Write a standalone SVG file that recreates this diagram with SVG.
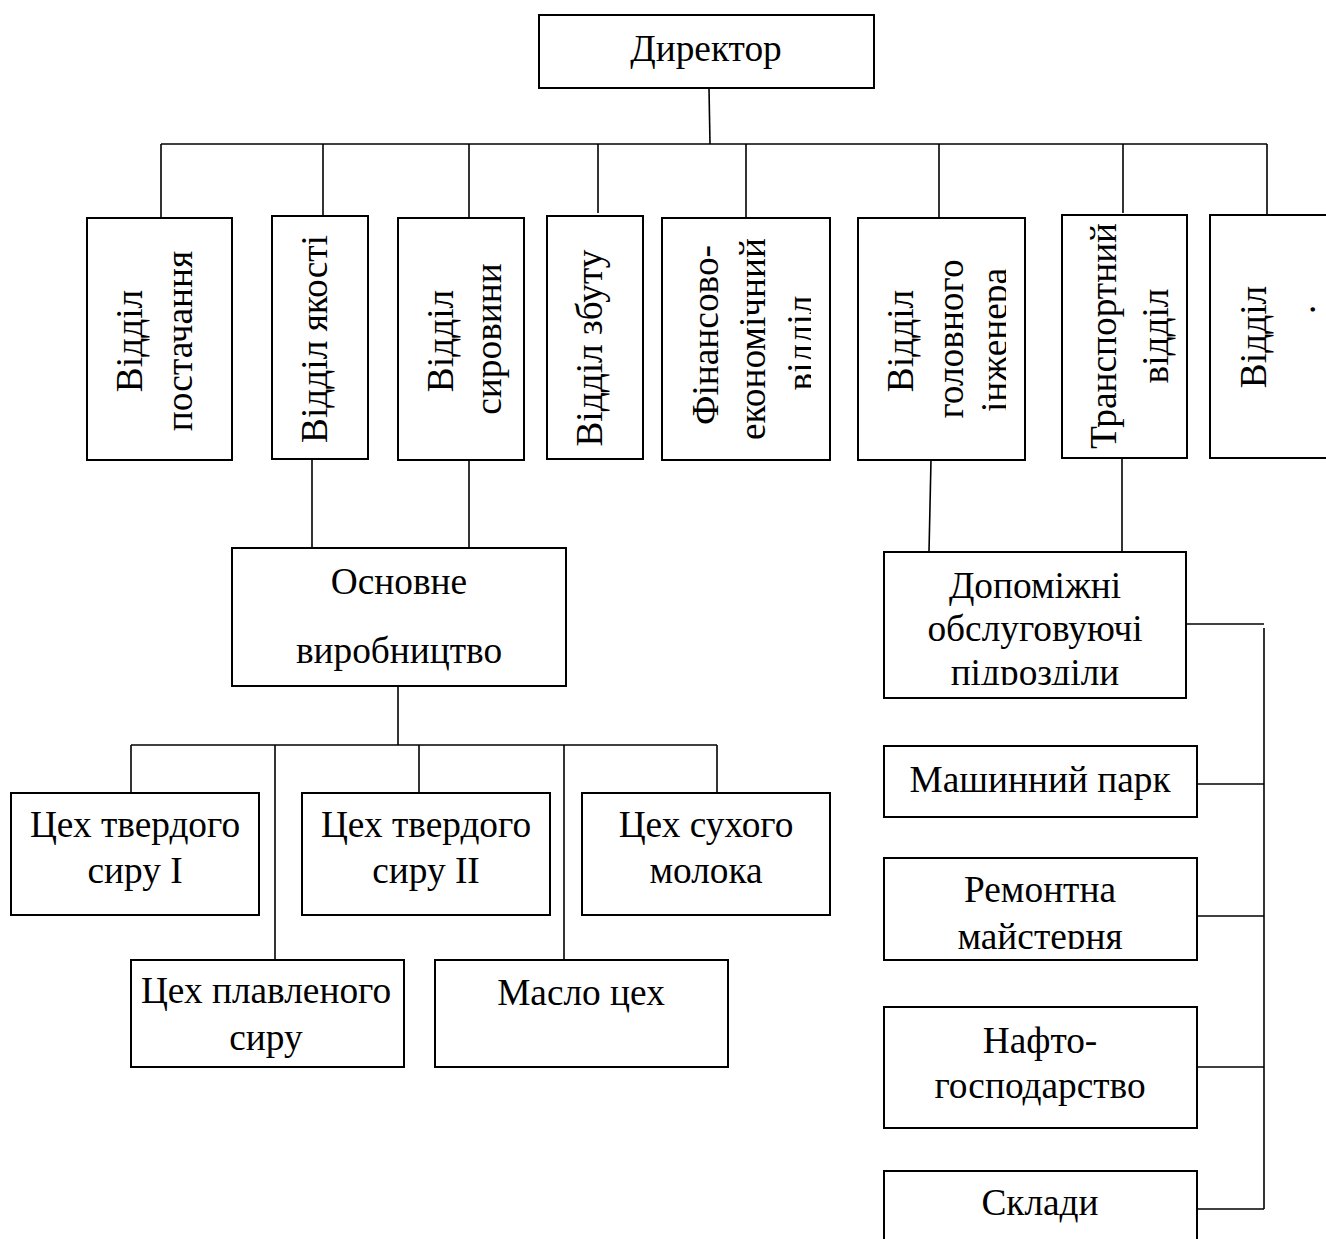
<svg xmlns="http://www.w3.org/2000/svg" width="1326" height="1239" viewBox="0 0 1326 1239">
<style>
.box{fill:#fff;stroke:#000;stroke-width:2}
.ln{fill:none;stroke:#000;stroke-width:1.6}
text{font-family:"Liberation Serif","Times New Roman",serif;font-size:37.33px;fill:#000;text-anchor:middle}
</style>
<defs>
<clipPath id="c5"><rect x="662" y="218" width="149" height="242"/></clipPath>
<clipPath id="c6"><rect x="858" y="218" width="148" height="242"/></clipPath>
<clipPath id="cDop"><rect x="884" y="553" width="302" height="132"/></clipPath>
<clipPath id="cRem"><rect x="884" y="858" width="313" height="91"/></clipPath>
<clipPath id="cPlav"><rect x="131" y="961" width="273" height="97"/></clipPath>
</defs>
<rect width="1326" height="1239" fill="#fff"/>
<g id="connectors">
<line class="ln" x1="709" y1="88" x2="710" y2="144"/>
<line class="ln" x1="161" y1="144" x2="1267" y2="144"/>
<line class="ln" x1="161" y1="144" x2="161" y2="218"/>
<line class="ln" x1="323" y1="144" x2="323" y2="216"/>
<line class="ln" x1="469" y1="144" x2="469" y2="218"/>
<line class="ln" x1="598" y1="144" x2="598" y2="213"/>
<line class="ln" x1="746" y1="144" x2="746" y2="218"/>
<line class="ln" x1="939" y1="144" x2="939" y2="218"/>
<line class="ln" x1="1123" y1="144" x2="1123" y2="213"/>
<line class="ln" x1="1267" y1="144" x2="1267" y2="215"/>
<line class="ln" x1="312" y1="459" x2="312" y2="548"/>
<line class="ln" x1="469" y1="460" x2="469" y2="548"/>
<line class="ln" x1="931" y1="460" x2="929" y2="552"/>
<line class="ln" x1="1122" y1="458" x2="1122" y2="552"/>
<line class="ln" x1="398" y1="686" x2="398" y2="745"/>
<line class="ln" x1="131" y1="745" x2="717" y2="745"/>
<line class="ln" x1="131" y1="745" x2="131" y2="793"/>
<line class="ln" x1="275" y1="745" x2="275" y2="960"/>
<line class="ln" x1="419" y1="745" x2="419" y2="793"/>
<line class="ln" x1="564" y1="745" x2="564" y2="960"/>
<line class="ln" x1="717" y1="745" x2="717" y2="793"/>
<line class="ln" x1="1186" y1="624" x2="1264" y2="624"/>
<line class="ln" x1="1264" y1="628" x2="1264" y2="1209"/>
<line class="ln" x1="1197" y1="784" x2="1264" y2="784"/>
<line class="ln" x1="1197" y1="916" x2="1264" y2="916"/>
<line class="ln" x1="1197" y1="1067" x2="1264" y2="1067"/>
<line class="ln" x1="1197" y1="1209" x2="1264" y2="1209"/>
</g>
<g id="director">
<rect class="box" x="539" y="15" width="335" height="73"/>
<text x="706" y="61">Директор</text>
</g>
<g id="postachannia">
<rect class="box" x="87" y="218" width="145" height="242"/>
<text transform="translate(142,341) rotate(-90)">Відділ</text>
<text transform="translate(192,341) rotate(-90)">постачання</text>
</g>
<g id="yakosti">
<rect class="box" x="272" y="216" width="96" height="243"/>
<text transform="translate(327,339) rotate(-90)">Відділ якості</text>
</g>
<g id="syrovyny">
<rect class="box" x="398" y="218" width="126" height="242"/>
<text transform="translate(453,341) rotate(-90)">Відділ</text>
<text transform="translate(501,339) rotate(-90)">сировини</text>
</g>
<g id="zbutu">
<rect class="box" x="547" y="216" width="96" height="243"/>
<text transform="translate(602,348) rotate(-90)">Відділ збуту</text>
</g>
<g id="finansovo">
<rect class="box" x="662" y="218" width="168" height="242"/>
<g clip-path="url(#c5)">
<text transform="translate(718,335) rotate(-90)">Фінансово-</text>
<text transform="translate(765,339) rotate(-90)">економічний</text>
<text transform="translate(813,343) rotate(-90)">відділ</text>
</g>
</g>
<g id="holovnoho">
<rect class="box" x="858" y="218" width="167" height="242"/>
<g clip-path="url(#c6)">
<text transform="translate(913,341) rotate(-90)">Відділ</text>
<text transform="translate(963,339) rotate(-90)">головного</text>
<text transform="translate(1007,340) rotate(-90)">інженера</text>
</g>
</g>
<g id="transportnyi">
<rect class="box" x="1062" y="215" width="125" height="243"/>
<text transform="translate(1116,336) rotate(-90)">Транспортний</text>
<text transform="translate(1168,336) rotate(-90)">відділ</text>
</g>
<g id="viddil8">
<rect class="box" x="1210" y="215" width="130" height="243"/>
<text transform="translate(1266,337) rotate(-90)">Відділ</text>
<text transform="translate(1315,314) rotate(-90)" style="text-anchor:start">.</text>
</g>
<g id="osnovne">
<rect class="box" x="232" y="548" width="334" height="138"/>
<text x="399" y="594">Основне</text>
<text x="399" y="663">виробництво</text>
</g>
<g id="tverdyi1">
<rect class="box" x="11" y="793" width="248" height="122"/>
<text x="135" y="837">Цех твердого</text>
<text x="135" y="883">сиру I</text>
</g>
<g id="tverdyi2">
<rect class="box" x="302" y="793" width="248" height="122"/>
<text x="426" y="837">Цех твердого</text>
<text x="426" y="883">сиру II</text>
</g>
<g id="sukhyi">
<rect class="box" x="582" y="793" width="248" height="122"/>
<text x="706" y="837">Цех сухого</text>
<text x="706" y="883">молока</text>
</g>
<g id="plavlenyi">
<rect class="box" x="131" y="960" width="273" height="107"/>
<g clip-path="url(#cPlav)">
<text x="266" y="1003">Цех плавленого</text>
<text x="266" y="1050">сиру</text>
</g>
</g>
<g id="maslo">
<rect class="box" x="435" y="960" width="293" height="107"/>
<text x="581" y="1005">Масло цех</text>
</g>
<g id="dopomizhni">
<rect class="box" x="884" y="552" width="302" height="146"/>
<g clip-path="url(#cDop)">
<text x="1035" y="598">Допоміжні</text>
<text x="1035" y="641">обслуговуючі</text>
<text x="1035" y="685">підрозділи</text>
</g>
</g>
<g id="mashynnyi">
<rect class="box" x="884" y="746" width="313" height="71"/>
<text x="1040" y="792">Машинний парк</text>
</g>
<g id="remontna">
<rect class="box" x="884" y="858" width="313" height="102"/>
<g clip-path="url(#cRem)">
<text x="1040" y="902">Ремонтна</text>
<text x="1040" y="949">майстерня</text>
</g>
</g>
<g id="nafto">
<rect class="box" x="884" y="1007" width="313" height="121"/>
<text x="1040" y="1053">Нафто-</text>
<text x="1040" y="1098">господарство</text>
</g>
<g id="sklady">
<rect class="box" x="884" y="1171" width="313" height="80"/>
<text x="1040" y="1215">Склади</text>
</g>
</svg>
